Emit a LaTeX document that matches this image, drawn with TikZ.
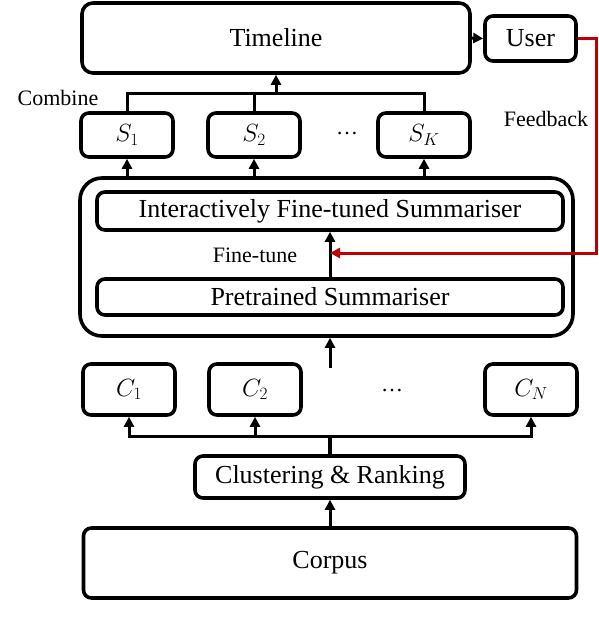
\documentclass[tikz,border=0pt]{standalone}
\usepackage{fontspec}
\setmainfont{Liberation Serif}
\usepackage{tikz}
\usetikzlibrary{arrows.meta}

\definecolor{fbred}{RGB}{192,0,0}
\tikzset{
  blk/.style 2 args={draw, line width=3.6pt, rounded corners=8pt, inner sep=0pt,
    minimum width=#1, minimum height=#2, font=\fontsize{26}{30}\selectfont},
  lbl/.style={inner sep=0pt, font=\fontsize{22}{26}\selectfont},
}

\begin{document}
\begin{tikzpicture}[x=1pt, y=-1pt, line width=3pt, >={Stealth[length=10pt,width=10pt,inset=0pt]}]
    \useasboundingbox (0,0) rectangle (598,634);
    \node[blk={388}{70}, rounded corners=11pt] (timeline) at (276,38) {Timeline};
    \node[blk={91}{45}] (user) at (530.5,38.5) {User};
    \node[lbl] (combine) at (58,98) {Combine};
    \node[lbl] (feedback) at (546,119) {Feedback};
    \node[blk={92}{44}] (s1) at (127,135) {$S_1$};
    \node[blk={92}{44}] (s2) at (254,135) {$S_2$};
    \node[blk={92}{44}] (sK) at (424,135) {$S_K$};
    \node[lbl] (sdots) at (347,134) {\dots};
    \node[blk={493}{158}, rounded corners=22pt] (summ) at (326.5,257) {};
    \node[blk={466}{38}] (ifs) at (330,211) {Interactively Fine-tuned Summariser};
    \node[blk={466}{36}] (ps) at (330,297) {Pretrained Summariser};
    \node[lbl] (finetune) at (255,255) {Fine-tune};
    \node[blk={92}{51}] (c1) at (129,389.5) {$C_1$};
    \node[blk={92}{51}] (c2) at (255,389.5) {$C_2$};
    \node[blk={92}{51}] (cN) at (531,389.5) {$C_N$};
    \node[lbl] (cdots) at (392,391) {\dots};
    \node[blk={270}{42}] (cr) at (330,477) {Clustering \& Ranking};
    \node[blk={493}{70}] (corpus) at (330,563) {Corpus};
    \coordinate (cbus) at (330,436);
    \coordinate (sbus) at (276,93);
    \coordinate (tosumm) at (330,368);
    \coordinate (fb) at (596,253);
    \draw[->] (corpus.north) -- (cr.south);
    \draw[line width=3.6pt] (cr.north) -- (cbus);
    \foreach \c in {c1,c2,cN}
      \draw[->] (cbus) -| (\c.south);
    \draw[->] (tosumm) -- (tosumm |- summ.south);
    \draw[->] (ps.north) -- (ifs.south);
    \foreach \s in {s1,s2,sK}
      \draw[->] (\s |- summ.north) -- (\s.south);
    \foreach \s in {s1,s2,sK}
      \draw (\s.north) |- (sbus);
    \draw[->] (sbus) -- (sbus |- timeline.south);
    \draw[->] (timeline.east) -- (user.west);
    \draw[->, fbred] (user.east) -| (fb) -- (fb -| ifs.south);
\end{tikzpicture}
\end{document}
